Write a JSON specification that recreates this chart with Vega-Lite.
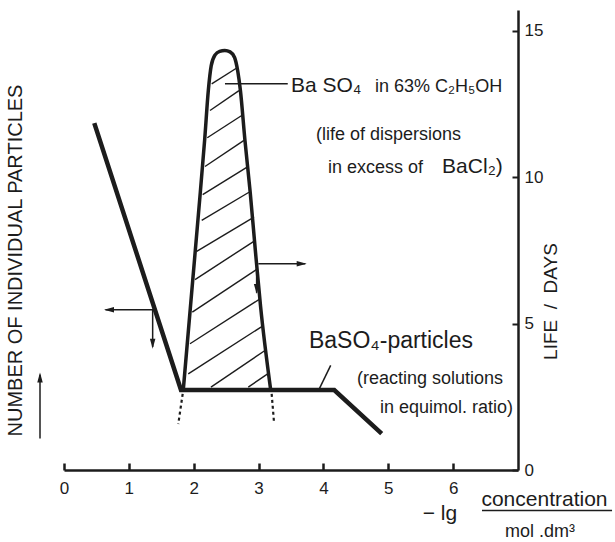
{
  "$schema": "https://vega.github.io/schema/vega-lite/v6.json",
  "width": 454,
  "height": 460,
  "autosize": "none",
  "padding": {"left": 64, "top": 10, "right": 97, "bottom": 72},
  "background": "white",
  "config": {"view": {"stroke": null}, "text": {"font": "Liberation Sans", "color": "#1c1c1c"}},
  "datasets": {
    "particles": [
      {"x": 0.467, "y": 11.84},
      {"x": 1.804, "y": 2.73},
      {"x": 4.167, "y": 2.73},
      {"x": 4.898, "y": 1.24}
    ],
    "life": [
      {"x": 1.839, "y": 2.73},
      {"x": 2.071, "y": 8.69},
      {"x": 2.17, "y": 11.3},
      {"x": 2.225, "y": 12.95},
      {"x": 2.27, "y": 13.8},
      {"x": 2.33, "y": 14.17},
      {"x": 2.4, "y": 14.29},
      {"x": 2.48, "y": 14.32},
      {"x": 2.56, "y": 14.27},
      {"x": 2.63, "y": 14.08},
      {"x": 2.68, "y": 13.6},
      {"x": 2.72, "y": 12.95},
      {"x": 2.79, "y": 11.25},
      {"x": 2.87, "y": 9.5},
      {"x": 2.95, "y": 7.5},
      {"x": 3.03, "y": 5.6},
      {"x": 3.187, "y": 2.73}
    ],
    "hatch": [
      {"x": 2.277, "y": 13.18, "x2": 2.663, "y2": 13.72},
      {"x": 2.251, "y": 12.27, "x2": 2.698, "y2": 12.95},
      {"x": 2.209, "y": 11.34, "x2": 2.74, "y2": 12.1},
      {"x": 2.174, "y": 10.36, "x2": 2.775, "y2": 11.25},
      {"x": 2.138, "y": 9.4, "x2": 2.817, "y2": 10.33},
      {"x": 2.123, "y": 8.52, "x2": 2.852, "y2": 9.48},
      {"x": 2.046, "y": 7.46, "x2": 2.929, "y2": 8.63},
      {"x": 2.02, "y": 6.5, "x2": 2.945, "y2": 7.83},
      {"x": 1.978, "y": 5.39, "x2": 2.986, "y2": 6.87},
      {"x": 1.943, "y": 4.31, "x2": 3.022, "y2": 5.84},
      {"x": 1.916, "y": 3.28, "x2": 3.073, "y2": 4.93},
      {"x": 2.266, "y": 2.83, "x2": 3.099, "y2": 4.08},
      {"x": 2.841, "y": 2.83, "x2": 3.14, "y2": 3.28}
    ],
    "dotted": [
      {"x": 1.83, "y": 2.6, "x2": 1.762, "y2": 1.57},
      {"x": 3.202, "y": 2.6, "x2": 3.238, "y2": 1.63}
    ],
    "shafts": [
      {"x": 1.377, "y": 5.47, "x2": 0.64, "y2": 5.47},
      {"x": 1.367, "y": 5.47, "x2": 1.367, "y2": 4.2},
      {"x": 2.996, "y": 7.04, "x2": 3.72, "y2": 7.04},
      {"x": 2.97, "y": 7.04, "x2": 2.97, "y2": 6.05},
      {"x": -0.37, "y": 1.075, "x2": -0.37, "y2": 3.25},
      {"x": 2.482, "y": 13.18, "x2": 3.45, "y2": 13.18},
      {"x": 3.936, "y": 2.77, "x2": 4.112, "y2": 3.57},
      {"x": 6.445, "y": -1.38, "x2": 8.45, "y2": -1.38}
    ],
    "heads": [
      {"x": 0.617, "y": 5.47, "dir": "left"},
      {"x": 1.367, "y": 4.14, "dir": "down"},
      {"x": 3.742, "y": 7.04, "dir": "right"},
      {"x": 2.97, "y": 6.01, "dir": "down"},
      {"x": -0.37, "y": 3.33, "dir": "up"}
    ],
    "notes": [
      {"x": 3.5, "y": 12.89, "text": "Ba SO₄", "kind": "big"},
      {"x": 4.795, "y": 12.89, "text": "in 63% C₂H₅OH", "kind": "mid"},
      {"x": 3.885, "y": 11.25, "text": "(life  of  dispersions", "kind": "small"},
      {"x": 4.07, "y": 10.15, "text": "in  excess  of", "kind": "small"},
      {"x": 5.83, "y": 10.15, "text": "BaCl₂)", "kind": "big"},
      {"x": 3.777, "y": 4.18, "text": "BaSO₄-particles", "kind": "huge"},
      {"x": 4.517, "y": 2.95, "text": "(reacting  solutions", "kind": "small"},
      {"x": 4.872, "y": 1.93, "text": "in  equimol. ratio)", "kind": "small"}
    ],
    "xtitle": [
      {"x": 5.797, "y": -1.72, "text": "− lg", "kind": "big"},
      {"x": 7.408, "y": -1.24, "text": "concentration", "kind": "big"},
      {"x": 7.339, "y": -2.3, "text": "mol .dm³", "kind": "mid"}
    ],
    "ytitle": [
      {"x": -0.74, "y": 7.15, "text": "NUMBER OF INDIVIDUAL PARTICLES"}
    ]
  },
  "encoding": {
    "x": {
      "field": "x", "type": "quantitative",
      "scale": {"domain": [0, 7], "nice": false, "zero": false},
      "axis": {
        "orient": "bottom", "values": [0, 1, 2, 3, 4, 5, 6], "title": "", "grid": false,
        "tickSize": -7, "tickWidth": 2.5, "tickColor": "#1c1c1c",
        "domainWidth": 2.5, "domainColor": "#1c1c1c",
        "labelFont": "Liberation Sans", "labelFontSize": 17, "labelColor": "#1c1c1c",
        "labelPadding": 17, "labelFlush": false
      }
    },
    "y": {
      "field": "y", "type": "quantitative",
      "scale": {"domain": [0, 15.7], "nice": false, "zero": false},
      "axis": {
        "orient": "right", "values": [0, 5, 10, 15], "grid": false,
        "tickSize": -6, "tickWidth": 2, "tickColor": "#1c1c1c",
        "domainWidth": 2.5, "domainColor": "#1c1c1c",
        "labelFont": "Liberation Sans", "labelFontSize": 17, "labelColor": "#1c1c1c",
        "labelPadding": 12, "labelAlign": "left", "labelBaseline": "middle",
        "title": "LIFE\u00a0\u00a0/\u00a0\u00a0DAYS", "titleFont": "Liberation Sans", "titleFontSize": 19,
        "titleFontWeight": "normal", "titleColor": "#1c1c1c", "titleAngle": 270,
        "titleX": 32, "titleY": 291, "titleAlign": "center", "titleBaseline": "middle"
      }
    }
  },
  "layer": [
    {
      "data": {"name": "particles"},
      "mark": {"type": "line", "strokeWidth": 4.5, "color": "#1c1c1c", "strokeJoin": "miter"}
    },
    {
      "data": {"name": "life"},
      "mark": {"type": "line", "strokeWidth": 3.5, "color": "#1c1c1c", "interpolate": "monotone"}
    },
    {
      "data": {"name": "hatch"},
      "mark": {"type": "rule", "strokeWidth": 1.4, "color": "#1c1c1c"},
      "encoding": {"x2": {"field": "x2"}, "y2": {"field": "y2"}}
    },
    {
      "data": {"name": "dotted"},
      "mark": {"type": "rule", "strokeWidth": 2.2, "color": "#1c1c1c", "strokeDash": [3, 3]},
      "encoding": {"x2": {"field": "x2"}, "y2": {"field": "y2"}}
    },
    {
      "data": {"name": "shafts"},
      "mark": {"type": "rule", "strokeWidth": 1.5, "color": "#1c1c1c"},
      "encoding": {"x2": {"field": "x2"}, "y2": {"field": "y2"}}
    },
    {
      "data": {"name": "heads"},
      "mark": {"type": "point", "filled": true, "size": 100, "color": "#1c1c1c", "opacity": 1},
      "encoding": {
        "shape": {
          "field": "dir", "type": "nominal", "legend": null,
          "scale": {
            "domain": ["left", "right", "up", "down"],
            "range": ["M0,0L2,-0.55L2,0.55Z", "M0,0L-2,-0.55L-2,0.55Z", "M0,0L-0.55,2L0.55,2Z", "M0,0L-0.55,-2L0.55,-2Z"]
          }
        }
      }
    },
    {
      "data": {"name": "notes"},
      "transform": [{"filter": "datum.kind === 'huge'"}],
      "mark": {"type": "text", "align": "left", "baseline": "alphabetic", "fontSize": 23},
      "encoding": {"text": {"field": "text"}}
    },
    {
      "data": {"name": "notes"},
      "transform": [{"filter": "datum.kind === 'big'"}],
      "mark": {"type": "text", "align": "left", "baseline": "alphabetic", "fontSize": 21},
      "encoding": {"text": {"field": "text"}}
    },
    {
      "data": {"name": "notes"},
      "transform": [{"filter": "datum.kind === 'mid'"}],
      "mark": {"type": "text", "align": "left", "baseline": "alphabetic", "fontSize": 18},
      "encoding": {"text": {"field": "text"}}
    },
    {
      "data": {"name": "notes"},
      "transform": [{"filter": "datum.kind === 'small'"}],
      "mark": {"type": "text", "align": "left", "baseline": "alphabetic", "fontSize": 18},
      "encoding": {"text": {"field": "text"}}
    },
    {
      "data": {"name": "xtitle"},
      "transform": [{"filter": "datum.kind === 'big'"}],
      "mark": {"type": "text", "align": "center", "baseline": "alphabetic", "fontSize": 21},
      "encoding": {"text": {"field": "text"}}
    },
    {
      "data": {"name": "xtitle"},
      "transform": [{"filter": "datum.kind === 'mid'"}],
      "mark": {"type": "text", "align": "center", "baseline": "alphabetic", "fontSize": 18},
      "encoding": {"text": {"field": "text"}}
    },
    {
      "data": {"name": "ytitle"},
      "mark": {"type": "text", "align": "center", "baseline": "middle", "angle": 270, "fontSize": 20},
      "encoding": {"text": {"field": "text"}}
    },
    {
      "data": {"values": [{}]},
      "mark": {"type": "rule", "strokeWidth": 2.5, "color": "#1c1c1c"},
      "encoding": {
        "x": {"datum": 0, "type": "quantitative"},
        "y": {"datum": 0, "type": "quantitative"},
        "y2": {"datum": 15.7}
      }
    }
  ]
}
